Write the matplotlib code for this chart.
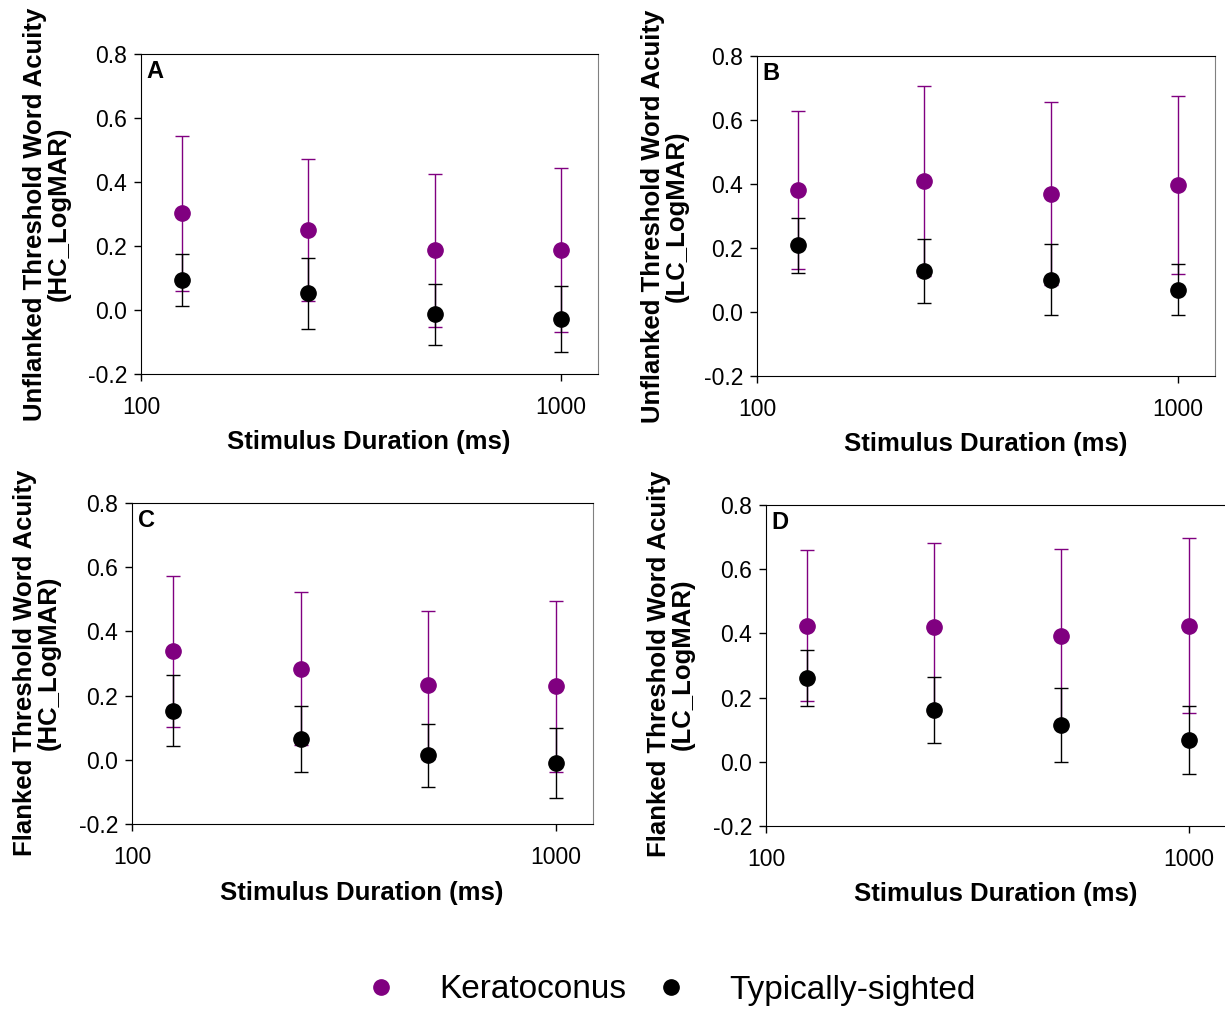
import numpy as np
import matplotlib
matplotlib.use('Agg')
import matplotlib.pyplot as plt
from matplotlib.lines import Line2D

plt.rcParams['font.family'] = ['Liberation Sans', 'DejaVu Sans']

durations = [125, 250, 500, 1000]

# Panel A: unflanked, high contrast
kc_a = [0.302, 0.249, 0.186, 0.187]
kc_a_err = [0.243, 0.222, 0.239, 0.257]
ts_a = [0.094, 0.052, -0.014, -0.028]
ts_a_err = [0.080, 0.112, 0.094, 0.102]

# Panel B: unflanked, low contrast
kc_b = [0.381, 0.409, 0.369, 0.396]
kc_b_err = [0.248, 0.297, 0.286, 0.278]
ts_b = [0.208, 0.129, 0.101, 0.070]
ts_b_err = [0.086, 0.100, 0.111, 0.080]

# Panel C: flanked, high contrast
kc_c = [0.338, 0.284, 0.232, 0.229]
kc_c_err = [0.236, 0.238, 0.231, 0.266]
ts_c = [0.153, 0.066, 0.014, -0.010]
ts_c_err = [0.110, 0.103, 0.098, 0.109]

# Panel D: flanked, low contrast
kc_d = [0.424, 0.419, 0.391, 0.424]
kc_d_err = [0.236, 0.264, 0.273, 0.272]
ts_d = [0.261, 0.161, 0.115, 0.068]
ts_d_err = [0.086, 0.103, 0.115, 0.106]

panel_letters = ['A', 'B', 'C', 'D']
y_labels = ['Unflanked Threshold Word Acuity\n(HC_LogMAR)',
            'Unflanked Threshold Word Acuity\n(LC_LogMAR)',
            'Flanked Threshold Word Acuity\n(HC_LogMAR)',
            'Flanked Threshold Word Acuity\n(LC_LogMAR)']
y_ticks = [-0.2, 0.0, 0.2, 0.4, 0.6, 0.8]

purple = '#800080'
W, H = 1225, 1009
fig = plt.figure(figsize=(W / 100, H / 100), dpi=100)

# axes boxes in pixels: left, top, right, bottom
boxes = [(141, 54, 598, 374), (757, 56, 1215, 376),
         (132, 503, 593, 824), (766, 505, 1226, 826)]
ylab_pos = [(47, 214), (665, 216), (37, 663), (671, 664)]
xlab_pos = [(369, 442), (986, 444), (362, 893), (996, 894)]

data = [(kc_a, kc_a_err, ts_a, ts_a_err), (kc_b, kc_b_err, ts_b, ts_b_err),
        (kc_c, kc_c_err, ts_c, ts_c_err), (kc_d, kc_d_err, ts_d, ts_d_err)]

for i, (l, t, r, b) in enumerate(boxes):
    ax = fig.add_axes([l / W, (H - b) / H, (r - l) / W, (b - t) / H])
    kc, kc_err, ts, ts_err = data[i]
    ax.errorbar(durations, kc, yerr=kc_err, fmt='o', color=purple, ms=11,
                elinewidth=1, capsize=5, capthick=1)
    ax.errorbar(durations, ts, yerr=ts_err, fmt='o', color='black', ms=11,
                elinewidth=1, capsize=5, capthick=1)
    ax.set_xscale('log')
    ax.set_xlim(100, 1225)
    ax.set_ylim(-0.2, 0.8)
    ax.set_xticks([100, 1000])
    ax.set_xticklabels(['100', '1000'])
    ax.xaxis.set_minor_locator(matplotlib.ticker.NullLocator())
    ax.set_yticks(y_ticks)
    ax.set_yticklabels([f'{v:.1f}' for v in y_ticks])
    ax.tick_params(axis='both', labelsize=16.5, length=5, width=1, direction='out')
    ax.tick_params(axis='x', pad=11)
    ax.tick_params(axis='y', pad=5)
    ax.tick_params(top=False, right=False)
    ax.spines['right'].set_color('#808080')
    ax.text(0.012, 0.98, panel_letters[i], transform=ax.transAxes, ha='left', va='top',
            fontsize=17, fontweight='bold')
    fig.text(ylab_pos[i][0] / W, 1 - ylab_pos[i][1] / H, y_labels[i], rotation=90,
             ha='center', va='center', multialignment='center', fontsize=18.5,
             fontweight='bold', linespacing=1.0)
    fig.text(xlab_pos[i][0] / W, 1 - xlab_pos[i][1] / H, 'Stimulus Duration (ms)',
             ha='center', va='center', fontsize=18.5, fontweight='bold')

handles = [Line2D([], [], marker='o', ls='none', color=purple, ms=11),
           Line2D([], [], marker='o', ls='none', color='black', ms=11)]
fig.legend(handles, ['Keratoconus', 'Typically-sighted'], loc='center',
           bbox_to_anchor=(670 / W, 1 - 990 / H), ncol=2, frameon=False, fontsize=24,
           handlelength=1, handletextpad=1.25, columnspacing=0.85)

fig.savefig('out.png', dpi=100)
